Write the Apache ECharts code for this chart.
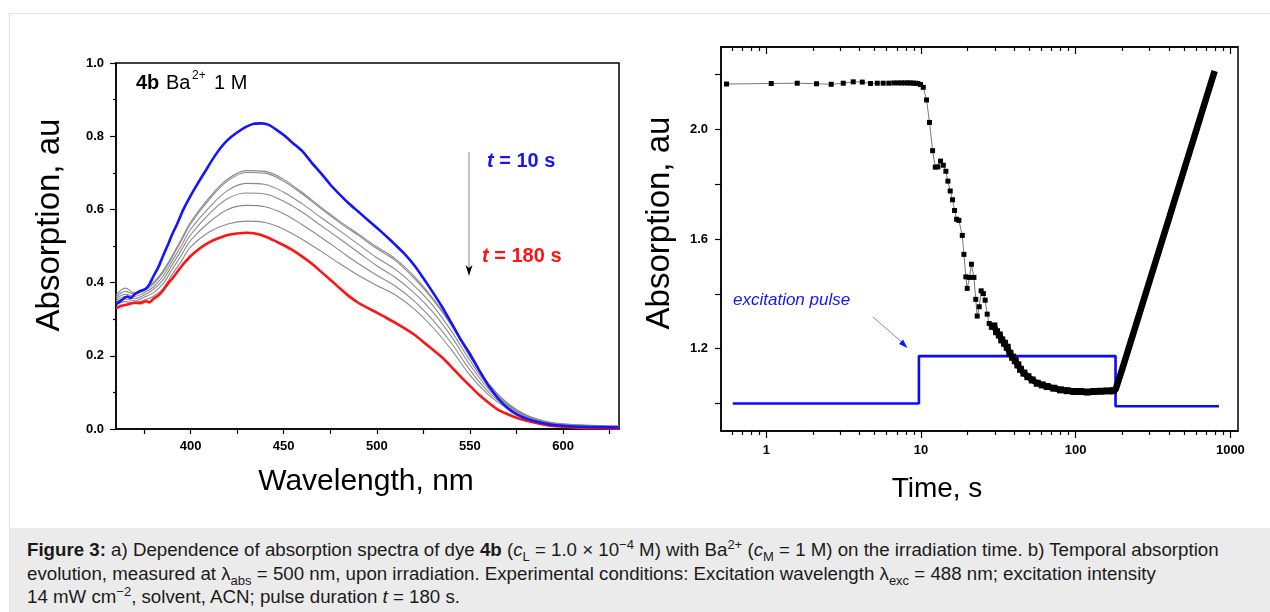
<!DOCTYPE html>
<html><head><meta charset="utf-8">
<script src="https://cdn.jsdelivr.net/npm/echarts@6/dist/echarts.min.js"></script>
<style>
html,body{margin:0;padding:0;background:#fff;width:1270px;height:612px;overflow:hidden;font-family:"Liberation Sans",Arial,sans-serif}
#frame{position:absolute;left:9px;top:13px;width:1261px;height:599px;border-left:1px solid #e2e2e2;border-top:1px solid #e2e2e2;box-sizing:border-box}
#chart{position:absolute;left:0;top:0;width:1270px;height:528px}
#cap{position:absolute;left:10px;top:528px;width:1260px;height:84px;background:#ebebeb;color:#1a1a1a;font-size:18.7px}
#cap div{position:absolute;left:17px;white-space:nowrap;line-height:20px}
#cap sub,#cap sup{line-height:0;font-size:13px}
</style></head>
<body>
<div id="frame"></div>
<div id="chart"></div>
<div id="cap">
<div style="top:12px"><b>Figure 3:</b> a) Dependence of absorption spectra of dye <b>4b</b> (<i>c</i><sub>L</sub> = 1.0 × 10<sup>−4</sup> M) with Ba<sup>2+</sup> (<i>c</i><sub>M</sub> = 1 M) on the irradiation time. b) Temporal absorption</div>
<div style="top:35.5px">evolution, measured at λ<sub>abs</sub> = 500 nm, upon irradiation. Experimental conditions: Excitation wavelength λ<sub>exc</sub> = 488 nm; excitation intensity</div>
<div style="top:58.5px">14 mW cm<sup>−2</sup>, solvent, ACN; pulse duration <i>t</i> = 180 s.</div>
</div>
<script>
// ---------- Panel a: spectra ----------
const wlFine = [360,363,366,368,370,373,376,378,380,383,385,388,390,393,396,400,404,408,412,416,420,425,430,434,438,442,446,450,455,460,465,470,475,480,485,490,495,500,505,510,515,520,525,530,535,540,545,550,555,560,565,570,575,580,585,590,595,600,610,620,630];
const absT10 = [0.340,0.352,0.362,0.358,0.368,0.377,0.383,0.396,0.416,0.445,0.470,0.505,0.530,0.562,0.598,0.637,0.672,0.705,0.738,0.767,0.790,0.810,0.826,0.834,0.835,0.831,0.818,0.803,0.781,0.759,0.728,0.699,0.668,0.641,0.616,0.594,0.572,0.550,0.527,0.503,0.478,0.448,0.412,0.374,0.334,0.290,0.245,0.205,0.160,0.118,0.084,0.058,0.040,0.029,0.021,0.015,0.011,0.009,0.006,0.005,0.004];
const absT180 = [0.330,0.337,0.340,0.343,0.345,0.344,0.349,0.346,0.355,0.366,0.377,0.398,0.410,0.430,0.450,0.472,0.490,0.504,0.515,0.523,0.530,0.534,0.536,0.535,0.530,0.522,0.512,0.502,0.488,0.471,0.452,0.430,0.408,0.385,0.363,0.345,0.331,0.318,0.304,0.290,0.275,0.258,0.238,0.217,0.196,0.170,0.143,0.118,0.093,0.072,0.053,0.041,0.031,0.023,0.017,0.012,0.008,0.006,0.003,0.002,0.001];
const wlCoarse = [360,365,370,375,380,385,390,395,400,410,420,430,440,450,460,470,480,490,500,510,520,530,540,550,560,570,580,590,600,615,630];
const absGray1 = [0.365,0.385,0.372,0.382,0.400,0.430,0.472,0.518,0.565,0.632,0.683,0.706,0.704,0.682,0.646,0.606,0.568,0.533,0.498,0.465,0.418,0.358,0.287,0.200,0.124,0.071,0.039,0.022,0.014,0.010,0.008];
const absGray2 = [0.360,0.376,0.368,0.378,0.396,0.426,0.468,0.513,0.560,0.627,0.678,0.701,0.699,0.677,0.642,0.602,0.564,0.529,0.493,0.460,0.412,0.354,0.283,0.197,0.122,0.070,0.038,0.021,0.013,0.009,0.008];
const absGray3 = [0.355,0.368,0.362,0.372,0.388,0.416,0.458,0.500,0.545,0.605,0.652,0.671,0.668,0.647,0.615,0.578,0.542,0.505,0.468,0.436,0.392,0.338,0.268,0.187,0.116,0.067,0.036,0.020,0.012,0.008,0.007];
const absGray4 = [0.350,0.362,0.356,0.366,0.381,0.406,0.447,0.488,0.530,0.588,0.630,0.645,0.642,0.622,0.592,0.556,0.520,0.483,0.446,0.414,0.372,0.320,0.253,0.175,0.109,0.064,0.035,0.019,0.011,0.008,0.007];
const absGray5 = [0.345,0.355,0.350,0.360,0.372,0.395,0.435,0.474,0.515,0.565,0.600,0.611,0.607,0.588,0.558,0.524,0.488,0.452,0.420,0.390,0.350,0.298,0.235,0.161,0.101,0.060,0.033,0.018,0.011,0.007,0.006];
const absGray6 = [0.340,0.348,0.345,0.352,0.362,0.382,0.421,0.458,0.497,0.538,0.560,0.568,0.564,0.546,0.518,0.486,0.452,0.420,0.392,0.366,0.328,0.278,0.217,0.147,0.093,0.056,0.031,0.017,0.010,0.007,0.006];
const wlLabels = [400,450,500,550,600];
const wlTicks = [375,400,425,450,475,500,525,550,575,600,625];

// ---------- Panel b: temporal evolution ----------
const timeSparse = [0.554,1.077,1.586,2.114,2.63,3.146,3.65,4.175,4.72,5.22,5.70,6.20,6.68,7.10,7.49,7.87,8.23,8.57,8.92,9.23,9.55,9.94,10.35,10.87,11.36,11.89,12.37,12.86,13.39,13.94,14.49,14.93,15.46,16.0,16.49,17.0,17.58,18.5,18.95,19.5,19.9,20.6,21.2,22.0,22.6,23.1,23.8,24.5,25.3,26.0,26.8,27.6,28.5,29.6];
const absSparse = [2.165,2.167,2.168,2.166,2.164,2.168,2.173,2.172,2.167,2.168,2.168,2.168,2.169,2.169,2.169,2.169,2.169,2.169,2.168,2.168,2.167,2.163,2.153,2.107,2.025,1.922,1.862,1.863,1.884,1.869,1.847,1.811,1.775,1.743,1.704,1.672,1.668,1.613,1.544,1.462,1.420,1.460,1.508,1.460,1.380,1.319,1.353,1.411,1.401,1.377,1.326,1.292,1.278,1.283];
const timeDense = [29.6,30.8,32.1,33.3,34.7,36.1,37.6,39.1,40.7,42.3,44.0,46.3,49.1,52.4,56.5,60.8,65.5,72.3,79.8,88.3,97.3,107.6,118.8,131,145,160,175];
const absDense = [1.283,1.262,1.250,1.232,1.220,1.205,1.183,1.169,1.156,1.141,1.125,1.111,1.098,1.086,1.074,1.068,1.062,1.056,1.050,1.047,1.044,1.044,1.042,1.044,1.045,1.046,1.047];
const timeRecovery = [175,181,200,250,300,400,500,600,700,780];
const absRecovery = [1.047,1.050,1.126,1.302,1.446,1.673,1.850,1.994,2.116,2.201];
const pulseTime = [0.608,9.7,9.7,181,181,843];
const pulseLevel = [1.000,1.000,1.173,1.173,0.990,0.990];
const timeMin = 0.51, timeMax = 1120;
const timeLabels = [1,10,100,1000];
const timeMinorTicks = [0.6,0.7,0.8,0.9,2,3,4,5,6,7,8,9,20,30,40,50,60,70,80,90,200,300,400,500,600,700,800,900];
const absLabelsB = [1.2,1.6,2.0];
const absTicksB = [1.0,1.2,1.4,1.6,1.8,2.0,2.2];

const FONT = '"Liberation Sans", Arial, sans-serif';
const lg = v => Math.log10(v);
const pairs = (xs, ys, f) => xs.map((x, i) => [f ? f(x) : x, ys[i]]);

const chart = echarts.init(document.getElementById('chart'), null, {renderer: 'canvas'});

const axisLineStyle = {color: '#000', width: 1.5};
const tickStyle = {color: '#000', width: 1.2};
const labelStyle = {color: '#000', fontSize: 13, fontWeight: 'bold', fontFamily: FONT};

const graySeries = [absGray1, absGray2, absGray3, absGray4, absGray5, absGray6].map((arr, k) => ({
  name: 'gray' + (k + 1), type: 'line', xAxisIndex: 0, yAxisIndex: 0,
  data: pairs(wlCoarse, arr), showSymbol: false, smooth: 0.35,
  lineStyle: {color: '#8a8a8a', width: 1.1}, z: 2
}));

const option = {
  animation: false,
  backgroundColor: 'transparent',
  grid: [
    {left: 116, top: 63, width: 503, height: 366, show: true, borderColor: '#000', borderWidth: 1.5, backgroundColor: 'transparent'},
    {left: 721, top: 47, width: 517, height: 384, show: true, borderColor: '#000', borderWidth: 1.5, backgroundColor: 'transparent'},
    {left: 721, top: 47, width: 517, height: 384, show: false}
  ],
  xAxis: [
    {gridIndex: 0, type: 'value', min: 360, max: 630, position: 'bottom',
      axisLine: {onZero: false, lineStyle: axisLineStyle},
      axisTick: {customValues: wlTicks, length: 5, lineStyle: tickStyle},
      axisLabel: Object.assign({customValues: wlLabels, margin: 11}, labelStyle),
      splitLine: {show: false}},
    {gridIndex: 1, type: 'value', min: lg(timeMin), max: lg(timeMax), position: 'bottom',
      axisLine: {onZero: false, lineStyle: axisLineStyle},
      axisTick: {customValues: timeLabels.map(lg), length: 7, lineStyle: tickStyle},
      axisLabel: Object.assign({customValues: timeLabels.map(lg), margin: 13,
        formatter: v => String(Math.round(Math.pow(10, v)))}, labelStyle),
      splitLine: {show: false}},
    {gridIndex: 1, type: 'value', min: lg(timeMin), max: lg(timeMax), position: 'top',
      axisLine: {onZero: false, lineStyle: axisLineStyle},
      axisTick: {inside: true, customValues: timeLabels.map(lg), length: 7, lineStyle: tickStyle},
      axisLabel: {show: false}, splitLine: {show: false}},
    {gridIndex: 2, type: 'value', min: lg(timeMin), max: lg(timeMax), position: 'bottom',
      axisLine: {show: false, onZero: false},
      axisTick: {customValues: timeMinorTicks.map(lg), length: 4, lineStyle: tickStyle},
      axisLabel: {show: false}, splitLine: {show: false}},
    {gridIndex: 2, type: 'value', min: lg(timeMin), max: lg(timeMax), position: 'top',
      axisLine: {show: false, onZero: false},
      axisTick: {inside: true, customValues: timeMinorTicks.map(lg), length: 4, lineStyle: tickStyle},
      axisLabel: {show: false}, splitLine: {show: false}}
  ],
  yAxis: [
    {gridIndex: 0, type: 'value', min: 0, max: 1, interval: 0.2,
      axisLine: {show: true, onZero: false, lineStyle: axisLineStyle},
      axisTick: {show: true, length: 6, lineStyle: tickStyle},
      minorTick: {show: true, splitNumber: 2, length: 3, lineStyle: tickStyle},
      axisLabel: Object.assign({margin: 12, formatter: v => v.toFixed(1)}, labelStyle),
      splitLine: {show: false}},
    {gridIndex: 1, type: 'value', min: 0.9, max: 2.3,
      axisLine: {show: true, onZero: false, lineStyle: axisLineStyle},
      axisTick: {show: true, customValues: absTicksB, length: 6, lineStyle: tickStyle},
      axisLabel: Object.assign({customValues: absLabelsB, margin: 13, formatter: v => v.toFixed(1)}, labelStyle),
      splitLine: {show: false}},
    {gridIndex: 2, type: 'value', min: 0.9, max: 2.3, show: false, axisLine: {onZero: false}}
  ],
  series: graySeries.concat([
    {name: 't = 180 s', type: 'line', xAxisIndex: 0, yAxisIndex: 0, data: pairs(wlFine, absT180),
      showSymbol: false, smooth: 0.2, lineStyle: {color: '#ff1414', width: 2.6}, z: 3},
    {name: 't = 10 s', type: 'line', xAxisIndex: 0, yAxisIndex: 0, data: pairs(wlFine, absT10),
      showSymbol: false, smooth: 0.2, lineStyle: {color: '#1414ff', width: 2.6}, z: 4},
    {name: 'excitation pulse', type: 'line', xAxisIndex: 1, yAxisIndex: 1, data: pairs(pulseTime, pulseLevel, lg),
      showSymbol: false, lineStyle: {color: '#0a0aff', width: 2.6}, z: 2},
    {name: 'absorption', type: 'line', xAxisIndex: 1, yAxisIndex: 1, data: pairs(timeSparse, absSparse, lg),
      symbol: 'rect', symbolSize: 5, showSymbol: true, itemStyle: {color: '#000'},
      lineStyle: {color: '#555', width: 0.8}, z: 5},
    {name: 'absorption dense', type: 'line', xAxisIndex: 1, yAxisIndex: 1, data: pairs(timeDense, absDense, lg),
      symbol: 'rect', symbolSize: 7, showSymbol: true, itemStyle: {color: '#000'},
      lineStyle: {color: '#000', width: 6}, z: 5},
    {name: 'absorption recovery', type: 'line', xAxisIndex: 1, yAxisIndex: 1, data: pairs(timeRecovery, absRecovery, lg),
      showSymbol: false, lineStyle: {color: '#000', width: 6.5, cap: 'square'}, z: 5}
  ]),
  graphic: [
    {type: 'text', x: 50, y: 225, rotation: Math.PI / 2,
      style: {text: 'Absorption, au', font: '33px ' + FONT, fill: '#000', align: 'center', verticalAlign: 'middle'}},
    {type: 'text', x: 366, y: 482,
      style: {text: 'Wavelength, nm', font: '30px ' + FONT, fill: '#000', align: 'center', verticalAlign: 'middle'}},
    {type: 'text', x: 660, y: 223, rotation: Math.PI / 2,
      style: {text: 'Absorption, au', font: '33px ' + FONT, fill: '#000', align: 'center', verticalAlign: 'middle'}},
    {type: 'text', x: 937, y: 489,
      style: {text: 'Time, s', font: '28px ' + FONT, fill: '#000', align: 'center', verticalAlign: 'middle'}},
    {type: 'text', x: 136, y: 83, style: {text: '4b', font: 'bold 20px ' + FONT, fill: '#000', align: 'left', verticalAlign: 'middle'}},
    {type: 'text', x: 166, y: 83, style: {text: 'Ba', font: '20px ' + FONT, fill: '#000', align: 'left', verticalAlign: 'middle'}},
    {type: 'text', x: 192, y: 76, style: {text: '2+', font: '12px ' + FONT, fill: '#000', align: 'left', verticalAlign: 'middle'}},
    {type: 'text', x: 214, y: 83, style: {text: '1 M', font: '20px ' + FONT, fill: '#000', align: 'left', verticalAlign: 'middle'}},
    {type: 'text', x: 487, y: 161, style: {rich: {i: {font: 'italic bold 20px ' + FONT, fill: '#1414ff'}, n: {font: 'bold 20px ' + FONT, fill: '#1414ff'}},
      text: '{i|t}{n| = 10 s}', align: 'left', verticalAlign: 'middle'}},
    {type: 'text', x: 482, y: 256, style: {rich: {i: {font: 'italic bold 20px ' + FONT, fill: '#ff1414'}, n: {font: 'bold 20px ' + FONT, fill: '#ff1414'}},
      text: '{i|t}{n| = 180 s}', align: 'left', verticalAlign: 'middle'}},
    {type: 'line', shape: {x1: 469, y1: 152, x2: 469, y2: 271}, style: {stroke: '#8a8a8a', lineWidth: 1}},
    {type: 'polygon', shape: {points: [[465.5, 265], [469, 276], [472.5, 265], [469, 268]]}, style: {fill: '#000'}},
    {type: 'text', x: 733, y: 300, style: {text: 'excitation pulse', font: 'italic 17px ' + FONT, fill: '#1414ff', align: 'left', verticalAlign: 'middle'}},
    {type: 'line', shape: {x1: 873, y1: 317, x2: 904, y2: 344}, style: {stroke: '#5a5aff', lineWidth: 0.8}},
    {type: 'polygon', shape: {points: [[899, 344], [907.5, 348], [903, 339.5]]}, style: {fill: '#1414ff'}}
  ]
};
chart.setOption(option);
</script>
</body></html>
